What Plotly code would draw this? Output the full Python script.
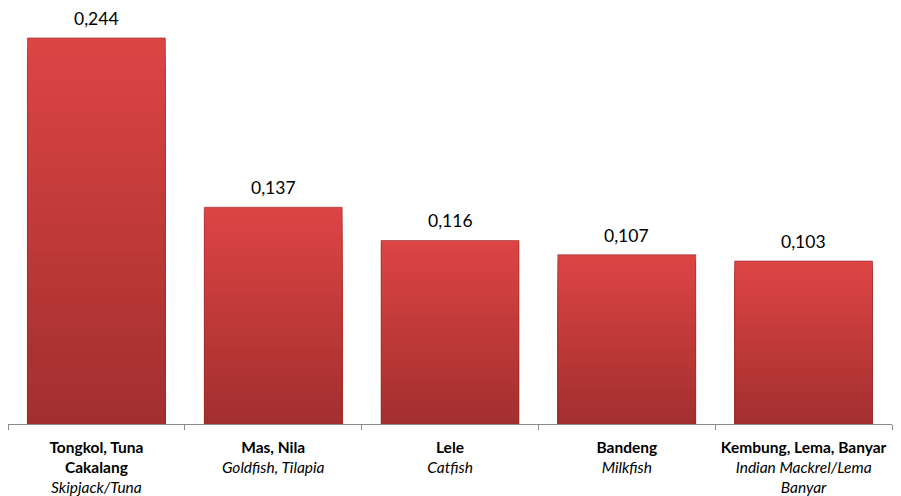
import plotly.graph_objects as go

# Fish categories (local name / English name) and their values
categories = ["Tongkol, Tuna Cakalang", "Mas, Nila", "Lele", "Bandeng", "Kembung, Lema, Banyar"]
local_names = ["Tongkol, Tuna<br>Cakalang", "Mas, Nila", "Lele", "Bandeng", "Kembung, Lema, Banyar"]
english_names = ["Skipjack/Tuna", "Goldfish, Tilapia", "Catfish", "Milkfish", "Indian Mackrel/Lema<br>Banyar"]
values = [0.244, 0.137, 0.116, 0.107, 0.103]

tick_labels = [f"<b>{a}</b><br><i>{b}</i>" for a, b in zip(local_names, english_names)]

FONT = "Lato, Carlito, sans-serif"
top_rgb = (221, 68, 68)
bottom_rgb = (163, 47, 47)
steps = 40

fig = go.Figure()

# Vertical gradient per bar: overlay progressively shorter, darker bars
for k in range(steps):
    frac = 1 - k / steps
    t = k / (steps - 1)
    c = tuple(round(top_rgb[i] + (bottom_rgb[i] - top_rgb[i]) * t) for i in range(3))
    fig.add_trace(go.Bar(
        x=categories,
        y=[v * frac for v in values],
        width=0.78,
        marker=dict(color=f"rgb{c}", line=dict(width=0)),
        hoverinfo="skip",
        showlegend=False,
    ))

# Outline on the full-height bars
fig.add_trace(go.Bar(
    x=categories,
    y=values,
    width=0.78,
    marker=dict(color="rgba(0,0,0,0)", line=dict(color="rgba(150,40,40,0.6)", width=1)),
    showlegend=False,
))

# Value labels above each bar
for cat, v in zip(categories, values):
    fig.add_annotation(
        x=cat, y=v,
        text=f"{v:.3f}".replace(".", ","),
        showarrow=False,
        yanchor="bottom",
        yshift=7,
        font=dict(family=FONT, size=17.5, color="#000000"),
    )

fig.update_layout(
    width=901,
    height=496,
    barmode="overlay",
    separators=",.",
    plot_bgcolor="white",
    paper_bgcolor="white",
    margin=dict(l=8, r=9, t=0, b=72),
    font=dict(family=FONT, color="#000000"),
)

fig.update_xaxes(
    tickmode="array",
    tickvals=categories,
    ticktext=tick_labels,
    tickson="boundaries",
    ticks="outside",
    ticklen=5,
    tickcolor="#8c8c8c",
    tickangle=0,
    ticklabelstandoff=9,
    automargin=False,
    showline=True,
    linecolor="#8c8c8c",
    linewidth=1,
    showgrid=False,
    tickfont=dict(family=FONT, size=15.5, color="#000000"),
    range=[-0.5, 4.5],
)

fig.update_yaxes(
    range=[0, 0.268],
    visible=False,
    showgrid=False,
    zeroline=False,
    automargin=False,
)

fig.write_html("out.html")
